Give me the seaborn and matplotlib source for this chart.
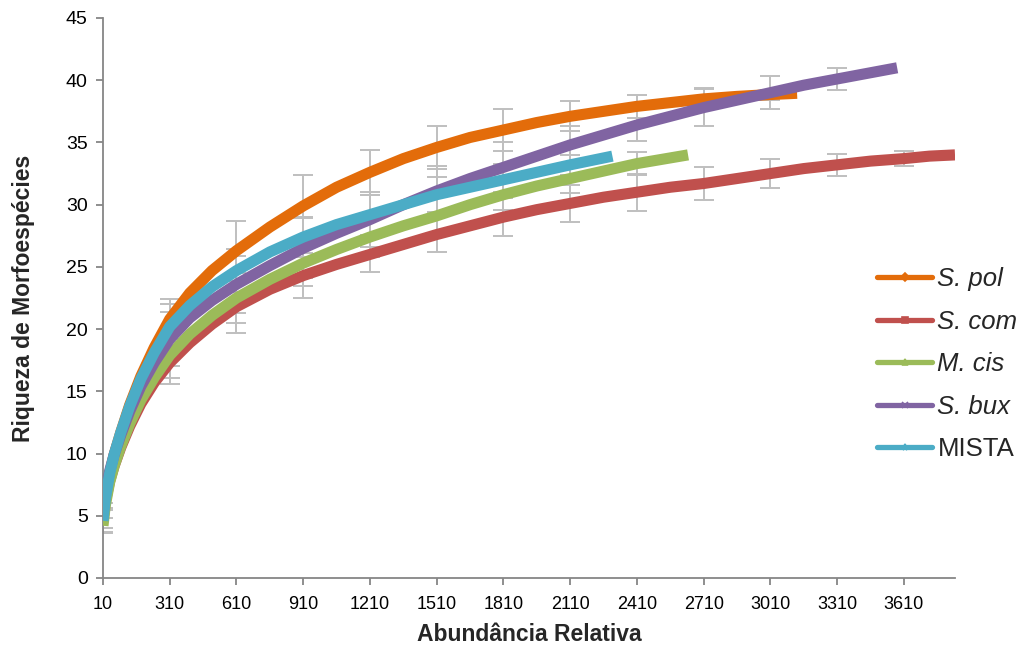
import matplotlib
matplotlib.use("Agg")
import numpy as np
import pandas as pd
import seaborn as sns
import matplotlib.pyplot as plt
from matplotlib.lines import Line2D

# ---------------- data ----------------
names = ["S. pol", "S. com", "M. cis", "S. bux", "MISTA"]
colors = ["#E36C0A", "#C0504D", "#9BBB59", "#8064A2", "#4BACC6"]
markers = ["D", "s", "^", "x", "*"]

x_pol = [10, 20, 40, 60, 90, 130, 180, 240, 310, 400, 500, 610, 760, 910, 1060, 1210, 1360,
         1510, 1660, 1810, 1960, 2110, 2260, 2410, 2560, 2710, 2860, 3010, 3130]
y_pol = [4.8, 6.4, 8.4, 9.9, 11.7, 13.9, 16.2, 18.5, 20.8, 22.9, 24.7, 26.3, 28.2, 29.9, 31.4,
         32.6, 33.7, 34.6, 35.4, 36.0, 36.6, 37.1, 37.5, 37.9, 38.2, 38.5, 38.7, 38.85, 38.95]

x_com = [10, 20, 40, 60, 90, 130, 180, 240, 310, 400, 500, 610, 760, 910, 1060, 1210, 1360,
         1510, 1660, 1810, 1960, 2110, 2260, 2410, 2560, 2710, 2860, 3010, 3160, 3310, 3460,
         3610, 3725, 3840]
y_com = [4.6, 6.1, 7.8, 9.0, 10.5, 12.2, 14.0, 15.7, 17.3, 18.9, 20.4, 21.8, 23.2, 24.3, 25.2,
         26.0, 26.8, 27.6, 28.3, 29.0, 29.6, 30.1, 30.6, 31.0, 31.4, 31.7, 32.1, 32.5, 32.9,
         33.2, 33.5, 33.7, 33.9, 34.0]

x_cis = [10, 20, 40, 60, 90, 130, 180, 240, 310, 400, 500, 610, 760, 910, 1060, 1210, 1360,
         1510, 1660, 1810, 1960, 2110, 2260, 2410, 2640]
y_cis = [4.2, 5.8, 7.7, 9.0, 10.6, 12.4, 14.3, 16.1, 17.9, 19.6, 21.1, 22.5, 24.0, 25.3, 26.4,
         27.4, 28.3, 29.1, 30.0, 30.8, 31.5, 32.1, 32.7, 33.3, 34.0]

x_bux = [10, 20, 40, 60, 90, 130, 180, 240, 310, 400, 500, 610, 760, 910, 1060, 1210, 1360,
         1510, 1660, 1810, 1960, 2110, 2260, 2410, 2560, 2710, 2860, 3010, 3160, 3310, 3460, 3580]
y_bux = [5.0, 6.7, 8.6, 9.9, 11.5, 13.4, 15.4, 17.3, 19.2, 20.9, 22.3, 23.6, 25.1, 26.5, 27.7,
         28.8, 30.0, 31.1, 32.1, 33.0, 33.9, 34.8, 35.6, 36.4, 37.1, 37.8, 38.4, 39.0, 39.6,
         40.1, 40.6, 41.0]

x_mis = [10, 20, 40, 60, 90, 130, 180, 240, 310, 400, 500, 610, 760, 910, 1060, 1210, 1360,
         1510, 1660, 1810, 1960, 2110, 2300]
y_mis = [4.6, 6.3, 8.4, 9.9, 11.7, 13.8, 16.0, 18.1, 20.2, 21.9, 23.4, 24.7, 26.2, 27.4, 28.4,
         29.2, 30.0, 30.8, 31.4, 32.0, 32.6, 33.2, 33.9]

# error-bar positions (every 300) and half-lengths for each series
err_ticks = [10, 310, 610, 910, 1210, 1510, 1810, 2110, 2410, 2710, 3010, 3310, 3610]
sd_pol = [0.8, 1.6, 2.4, 2.5, 1.8, 1.7, 1.7, 1.2, 0.9, 0.9, 0.4]
sd_com = [1.0, 1.7, 2.1, 1.8, 1.4, 1.4, 1.5, 1.5, 1.5, 1.3, 1.15, 0.9, 0.6]
sd_cis = [0.6, 1.8, 2.0, 1.8, 1.6, 1.5, 1.2, 1.2, 0.9]
sd_bux = [1.0, 2.2, 2.3, 2.4, 2.2, 2.0, 2.0, 1.5, 1.3, 1.5, 1.3, 0.9]
sd_mis = [0.9, 1.8, 1.7, 1.6, 1.6, 1.4, 1.3, 0.8]

x_tick_labels = ["10", "310", "610", "910", "1210", "1510", "1810", "2110",
                 "2410", "2710", "3010", "3310", "3610"]

# ---------------- build ----------------
xs = [x_pol, x_com, x_cis, x_bux, x_mis]
ys = [y_pol, y_com, y_cis, y_bux, y_mis]
sds = [sd_pol, sd_com, sd_cis, sd_bux, sd_mis]

df = pd.concat([pd.DataFrame({"x": x, "y": y, "serie": n}) for x, y, n in zip(xs, ys, names)],
               ignore_index=True)

sns.set_theme(style="ticks")
plt.rcParams["font.family"] = ["Liberation Sans", "DejaVu Sans"]

fig = plt.figure(figsize=(10.24, 6.49), dpi=100)
ax = fig.add_axes([103 / 1024, 1 - 578 / 649, 852 / 1024, 560 / 649])

# error bars (behind the curves)
for x, y, sd in zip(xs, ys, sds):
    lut = dict(zip(x, y))
    ex = err_ticks[:len(sd)]
    ey = [lut[t] for t in ex]
    ax.errorbar(ex, ey, yerr=sd, fmt="none", ecolor="#BFBFBF", elinewidth=1.4,
                capsize=7.5, capthick=1.4, zorder=1)

sns.lineplot(data=df, x="x", y="y", hue="serie", hue_order=names, palette=colors,
             linewidth=8, legend=False, ax=ax, sort=False, estimator=None, zorder=3)
for ln in ax.get_lines():
    ln.set_solid_capstyle("butt")
    ln.set_solid_joinstyle("round")

ax.set_xlim(10, 3840)
ax.set_ylim(0, 45)
ax.set_xticks([int(t) for t in x_tick_labels])
ax.set_xticklabels(x_tick_labels)
ax.set_yticks(np.arange(0, 46, 5))

for s in ["top", "right"]:
    ax.spines[s].set_visible(False)
for s in ["left", "bottom"]:
    ax.spines[s].set_color("#868686")
    ax.spines[s].set_linewidth(1.3)
ax.tick_params(axis="both", direction="out", length=5, width=1.3, color="#868686",
               labelcolor="black")
ax.tick_params(axis="y", pad=6, labelsize=14)
ax.tick_params(axis="x", pad=8, labelsize=13)

ax.set_xlabel("Abundância Relativa", fontsize=16.5, fontweight="bold")
ax.set_ylabel("Riqueza de Morfoespécies", fontsize=16.5, fontweight="bold")
ax.xaxis.set_label_coords(0.50, -0.080)
ax.yaxis.set_label_coords(-0.080, 0.5)

handles = [Line2D([0], [0], color=c, lw=3.8, marker=m, markersize=4.5, markeredgewidth=1.2,
                  markerfacecolor=c, markeredgecolor=c, solid_capstyle="round")
           for c, m in zip(colors, markers)]
leg = ax.legend(handles, names, loc="center left", bbox_to_anchor=(877 / 1024, 0.439),
                bbox_transform=fig.transFigure, frameon=False, fontsize=18.5,
                handlelength=2.15, handletextpad=0.2, labelspacing=0.72,
                borderaxespad=0, borderpad=0)
for t in leg.get_texts()[:4]:
    t.set_fontstyle("italic")

fig.savefig("out.png", dpi=100)
